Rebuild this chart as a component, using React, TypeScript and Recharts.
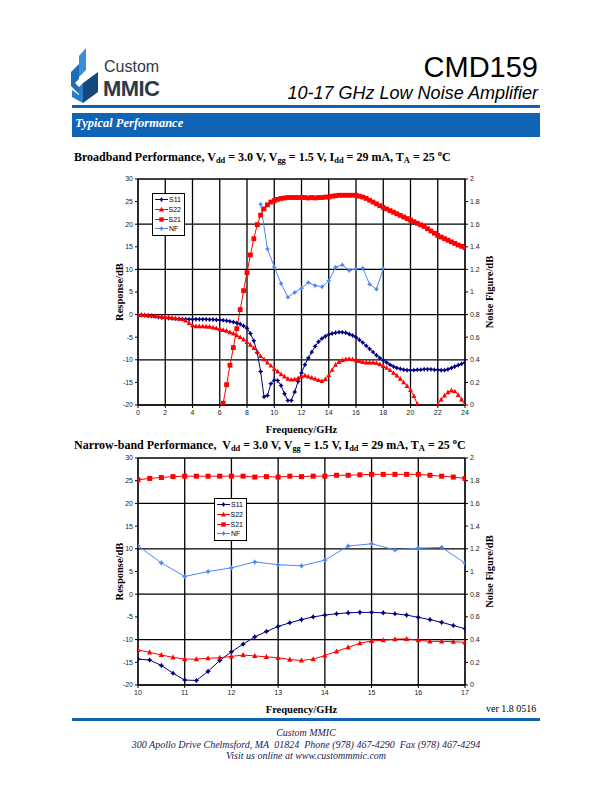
import { LineChart, Line, XAxis, YAxis, CartesianGrid, Legend } from 'recharts';

// ---- broadband sweep (0-24 GHz, 0.25 GHz steps) ----
const bbFreq = [
  0, 0.25, 0.5, 0.75, 1, 1.25, 1.5, 1.75, 2, 2.25, 2.5, 2.75, 3, 3.25, 3.5, 3.75,
  4, 4.25, 4.5, 4.75, 5, 5.25, 5.5, 5.75, 6, 6.25, 6.5, 6.75, 7, 7.25, 7.5, 7.75,
  8, 8.25, 8.5, 8.75, 9, 9.25, 9.5, 9.75, 10, 10.25, 10.5, 10.75, 11, 11.25, 11.5, 11.75,
  12, 12.25, 12.5, 12.75, 13, 13.25, 13.5, 13.75, 14, 14.25, 14.5, 14.75, 15, 15.25, 15.5, 15.75,
  16, 16.25, 16.5, 16.75, 17, 17.25, 17.5, 17.75, 18, 18.25, 18.5, 18.75, 19, 19.25, 19.5, 19.75,
  20, 20.25, 20.5, 20.75, 21, 21.25, 21.5, 21.75, 22, 22.25, 22.5, 22.75, 23, 23.25, 23.5, 23.75, 24,
];
const bbS11 = [
  0, -0.1, -0.2, -0.3, -0.35, -0.45, -0.55, -0.65, -0.75, -0.8, -0.85, -0.9, -0.95, -1.0, -1.0, -1.05,
  -1.05, -1.05, -1.05, -1.05, -1.05, -1.1, -1.1, -1.15, -1.2, -1.25, -1.35, -1.5, -1.65, -1.85, -2.1, -2.5,
  -3.0, -4.2, -5.8, -8.4, -12.6, -18.2, -17.9, -15.3, -14.5, -14.6, -15.7, -17.5, -19.0, -19.0, -17.1, -14.8,
  -12.9, -11.1, -9.6, -8.3, -7.0, -6.0, -5.3, -4.8, -4.4, -4.2, -4.0, -3.9, -3.9, -4.0, -4.3, -4.6,
  -5.0, -5.6, -6.2, -6.9, -7.6, -8.3, -9.0, -9.6, -10.1, -10.6, -11.1, -11.5, -11.8, -12.0, -12.2, -12.3,
  -12.3, -12.3, -12.2, -12.2, -12.1, -12.1, -12.1, -12.2, -12.2, -12.3, -12.3, -12.1, -11.8, -11.5, -11.2, -10.9, -10.6,
];
const bbS22 = [
  0, -0.05, -0.1, -0.15, -0.2, -0.3, -0.4, -0.5, -0.55, -0.6, -0.7, -0.8, -0.9, -1.0, -1.3, -1.9,
  -2.4, -2.6, -2.6, -2.6, -2.65, -2.7, -2.85, -3.0, -3.2, -3.4, -3.6, -3.9, -4.2, -4.6, -5.0, -5.5,
  -6.1, -6.7, -7.4, -8.2, -9.2, -9.9, -10.6, -11.3, -12.0, -12.6, -13.2, -13.7, -14.2, -14.4, -14.3, -14.1,
  -13.7, -13.5, -13.7, -14.0, -14.2, -14.5, -14.7, -14.3, -13.4, -12.2, -11.1, -10.5, -10.1, -9.9, -9.8, -9.9,
  -10.1, -10.3, -10.5, -10.6, -10.6, -10.6, -10.7, -11.0, -11.4, -11.8, -12.3, -12.9, -13.5, -14.2, -15.0, -15.8,
  -16.7, -18.0, -19.8, null, null, null, null, null, -19.9, -18.8, -17.9, -17.2, -16.8, -17.0, -17.8, -18.8, -20.0,
];
const bbS21Freq = [
  6.25, 6.5, 6.75, 7, 7.25, 7.5, 7.75, 8, 8.25, 8.5, 8.75, 9, 9.25, 9.5, 9.75,
  10, 10.25, 10.5, 10.75, 11, 11.25, 11.5, 11.75, 12, 12.25, 12.5, 12.75, 13, 13.25, 13.5, 13.75,
  14, 14.25, 14.5, 14.75, 15, 15.25, 15.5, 15.75, 16, 16.25, 16.5, 16.75, 17, 17.25, 17.5, 17.75,
  18, 18.25, 18.5, 18.75, 19, 19.25, 19.5, 19.75, 20, 20.25, 20.5, 20.75, 21, 21.25, 21.5, 21.75,
  22, 22.25, 22.5, 22.75, 23, 23.25, 23.5, 23.75, 24,
];
const bbS21 = [
  -19.6, -15.5, -11.2, -7.3, -3.1, 1.1, 5.3, 9.3, 13.2, 16.8, 19.9, 22.0, 23.4, 24.3, 24.9,
  25.2, 25.5, 25.7, 25.8, 25.9, 25.9, 25.9, 25.9, 25.9, 25.9, 25.8, 25.9, 25.8, 25.9, 25.9, 26.0,
  26.0, 26.2, 26.3, 26.4, 26.4, 26.4, 26.4, 26.4, 26.4, 26.2, 26.0, 25.7, 25.3, 24.9, 24.5, 24.1,
  23.7, 23.35, 23.0, 22.65, 22.3, 21.95, 21.6, 21.25, 20.9, 20.55, 20.2, 19.85, 19.5, 19.0, 18.5, 18.0,
  17.5, 17.15, 16.8, 16.45, 16.1, 15.75, 15.4, 15.1, 14.8,
];
const bbNfFreq = [9, 9.5, 10, 10.5, 11, 11.5, 12, 12.5, 13, 13.5, 14, 14.5, 15, 15.5, 16, 16.5, 17, 17.5, 18];
const bbNf = [1.776, 1.381, 1.222, 1.075, 0.954, 0.996, 1.034, 1.084, 1.057, 1.046, 1.099, 1.219, 1.24, 1.19, 1.205, 1.211, 1.069, 1.025, 1.208];

// ---- narrow-band sweep (10-17 GHz) ----
const nbFreq = [
  10, 10.25, 10.5, 10.75, 11, 11.25, 11.5, 11.75, 12, 12.25, 12.5, 12.75, 13, 13.25, 13.5, 13.75,
  14, 14.25, 14.5, 14.75, 15, 15.25, 15.5, 15.75, 16, 16.25, 16.5, 16.75, 17,
];
const nbS11 = [
  -14.3, -14.5, -15.7, -17.4, -18.9, -19.0, -17.0, -14.6, -12.7, -11.0, -9.4, -8.2, -7.1, -6.3, -5.6, -5.0,
  -4.6, -4.3, -4.1, -4.0, -4.0, -4.1, -4.3, -4.6, -5.1, -5.6, -6.2, -6.9, -7.6,
];
const nbS22 = [
  -12.3, -12.8, -13.4, -13.9, -14.3, -14.3, -14.1, -14.0, -13.7, -13.4, -13.6, -13.8, -14.0, -14.4, -14.6, -14.3,
  -13.5, -12.6, -11.7, -10.8, -10.3, -10.15, -9.9, -9.85, -10.15, -10.4, -10.4, -10.45, -10.6,
];
const nbS21 = [
  25.2, 25.5, 25.7, 25.9, 26.0, 26.0, 26.0, 26.0, 26.0, 26.0, 25.8, 25.9, 25.8, 26.0, 25.9, 26.0,
  26.0, 26.2, 26.2, 26.3, 26.4, 26.4, 26.4, 26.4, 26.4, 26.2, 26.0, 25.8, 25.5,
];
const nbNfFreq = [10, 10.5, 11, 11.5, 12, 12.5, 13, 13.5, 14, 14.5, 15, 15.5, 16, 16.5, 17];
const nbNf = [1.226, 1.076, 0.956, 1.0, 1.032, 1.084, 1.06, 1.05, 1.1, 1.224, 1.244, 1.19, 1.206, 1.212, 1.074];

// ---- axes ----
const dbTicks = [-20, -15, -10, -5, 0, 5, 10, 15, 20, 25, 30];
const nfTicks = [0, 0.2, 0.4, 0.6, 0.8, 1, 1.2, 1.4, 1.6, 1.8, 2];
const bbTicks = [0, 2, 4, 6, 8, 10, 12, 14, 16, 18, 20, 22, 24];
const nbTicks = [10, 11, 12, 13, 14, 15, 16, 17];

const SERIF = '"Liberation Serif", "Times New Roman", serif';
const SANS = '"Liberation Sans", Arial, sans-serif';
const BLUE = '#0f64b6';

const NAVY = '#000080';
const RED = '#ff0000';
const LIGHT = '#4f86f7';

type Shape = 'star' | 'triangle' | 'square';
type Series = {
  name: string;
  freq: number[];
  values: (number | null)[];
  color: string;
  shape: Shape;
  size: number;
  right?: boolean;
};

const toPoints = (freq: number[], values: (number | null)[]) =>
  freq.map((f, i) => ({ f, v: values[i] }));

function Marker({ cx, cy, shape, color, size }: { cx: number; cy: number; shape: Shape; color: string; size: number }) {
  if (cx == null || cy == null || Number.isNaN(cy)) return null;
  const s = size;
  if (shape === 'square') {
    return <rect x={cx - s} y={cy - s} width={2 * s} height={2 * s} fill={color} />;
  }
  if (shape === 'triangle') {
    return <polygon points={`${cx},${cy - s * 1.15} ${cx + s},${cy + s * 0.8} ${cx - s},${cy + s * 0.8}`} fill={color} />;
  }
  const k = s * 0.38;
  return (
    <polygon
      points={`${cx},${cy - s} ${cx + k},${cy - k} ${cx + s},${cy} ${cx + k},${cy + k} ${cx},${cy + s} ${cx - k},${cy + k} ${cx - s},${cy} ${cx - k},${cy - k}`}
      fill={color}
    />
  );
}

function LegendBox({ items }: { items: Series[] }) {
  return (
    <div style={{ border: '1px solid #000', background: '#fff', padding: '1px 3px 1px 2px', width: 26 }}>
      {items.map((s) => (
        <div key={s.name} style={{ display: 'flex', alignItems: 'center', height: 9.7 }}>
          <svg width={13} height={9} style={{ display: 'block' }}>
            <line x1={0} y1={4.5} x2={13} y2={4.5} stroke={s.color} strokeWidth={1} />
            <Marker cx={6.5} cy={4.5} shape={s.shape} color={s.color} size={s.shape === 'square' ? 2.2 : 2.5} />
          </svg>
          <span style={{ fontFamily: SANS, fontSize: 7, marginLeft: 1, lineHeight: '9px' }}>{s.name}</span>
        </div>
      ))}
    </div>
  );
}

const fmt = (v: number) => String(Math.round(v * 10) / 10);
const tickStyle = { fontFamily: SANS, fontSize: 7, fill: '#222' };
const titleStyle = { fontFamily: SERIF, fontSize: 10.5, fontWeight: 700, fill: '#000' };

function PerfChart({
  top, series, domain, ticks, plotHeight, legendLeft, legendTop,
}: {
  top: number; series: Series[]; domain: [number, number]; ticks: number[];
  plotHeight: number; legendLeft: number; legendTop: number;
}) {
  const height = 272;
  const xAxisH = 28;
  const mTop = 9;
  return (
    <div style={{ position: 'absolute', left: 0, top, width: 612, height }}>
      <LineChart
        width={612}
        height={height}
        margin={{ top: mTop, left: 98, right: 107, bottom: height - mTop - plotHeight - xAxisH }}
      >
        <CartesianGrid stroke="#000" strokeWidth={1.3} />
        <XAxis
          dataKey="f"
          type="number"
          domain={domain}
          ticks={ticks}
          allowDataOverflow
          height={xAxisH}
          tick={tickStyle}
          tickSize={3}
          tickMargin={2}
          stroke="#000"
          label={{ value: 'Frequency/GHz', position: 'insideBottom', offset: 0, style: titleStyle }}
        />
        <YAxis
          type="number"
          domain={[-20, 30]}
          ticks={dbTicks}
          allowDataOverflow
          width={40}
          tick={tickStyle}
          tickFormatter={fmt}
          tickSize={3}
          tickMargin={2}
          stroke="#000"
          label={{ value: 'Response/dB', angle: -90, position: 'insideLeft', offset: 21, style: { ...titleStyle, textAnchor: 'middle' } }}
        />
        <YAxis
          yAxisId="r"
          orientation="right"
          type="number"
          domain={[0, 2]}
          ticks={nfTicks}
          allowDataOverflow
          width={40}
          tick={tickStyle}
          tickFormatter={fmt}
          tickSize={3}
          tickMargin={2}
          stroke="#000"
          label={{ value: 'Noise Figure/dB', angle: -90, position: 'insideRight', offset: 16, style: { ...titleStyle, textAnchor: 'middle' } }}
        />
        <Legend
          layout="vertical"
          align="center"
          verticalAlign="middle"
          content={() => <LegendBox items={series} />}
          wrapperStyle={{ left: legendLeft, top: legendTop, width: 'auto', height: 'auto' }}
        />
        {series.map((s) => (
          <Line
            key={s.name}
            name={s.name}
            data={toPoints(s.freq, s.values)}
            dataKey="v"
            yAxisId={s.right ? 'r' : 0}
            stroke={s.color}
            strokeWidth={1}
            connectNulls={false}
            activeDot={false}
            isAnimationActive={false}
            dot={(p: any) => (
              <g key={`${s.name}-${p.index}`}>
                <Marker cx={p.cx} cy={p.cy} shape={s.shape} color={s.color} size={s.size} />
              </g>
            )}
          />
        ))}
      </LineChart>
    </div>
  );
}

const bbSeries: Series[] = [
  { name: 'S11', freq: bbFreq, values: bbS11, color: NAVY, shape: 'star', size: 2.6 },
  { name: 'S22', freq: bbFreq, values: bbS22, color: RED, shape: 'triangle', size: 2.4 },
  { name: 'S21', freq: bbS21Freq, values: bbS21, color: RED, shape: 'square', size: 2.4 },
  { name: 'NF', freq: bbNfFreq, values: bbNf, color: LIGHT, shape: 'star', size: 2.6, right: true },
];

const nbSeries: Series[] = [
  { name: 'S11', freq: nbFreq, values: nbS11, color: NAVY, shape: 'star', size: 2.8 },
  { name: 'S22', freq: nbFreq, values: nbS22, color: RED, shape: 'triangle', size: 2.6 },
  { name: 'S21', freq: nbFreq, values: nbS21, color: RED, shape: 'square', size: 2.5 },
  { name: 'NF', freq: nbNfFreq, values: nbNf, color: LIGHT, shape: 'star', size: 2.8, right: true },
];

function Sub({ children }: { children: string }) {
  return <sub style={{ fontSize: '0.7em', verticalAlign: '-0.25em', lineHeight: 0 }}>{children}</sub>;
}

function Conditions() {
  return (
    <>
      V<Sub>dd</Sub> = 3.0 V, V<Sub>gg</Sub> = 1.5 V, I<Sub>dd</Sub> = 29 mA, T<Sub>A</Sub> = 25 <sup style={{ fontSize: '0.7em', lineHeight: 0 }}>o</sup>C
    </>
  );
}

function Logo() {
  return (
    <svg width={30} height={58} viewBox="0 0 30 58" style={{ position: 'absolute', left: 70, top: 46 }}>
      <polygon points="9,10 16,2 16,24 9,31" fill="#3a8fd4" />
      <polygon points="1,26 9,18 9,33 5,37 9,41 9,48 1,40" fill="#1f6db3" />
      <polygon points="2,44 13,52 13,57 2,51" fill="#2a7cc4" />
      <polygon points="13,37 28,26 28,46 13,57" fill="#15497e" />
      <polygon points="9,41 13,37 13,57 9,54" fill="#2a7cc4" />
    </svg>
  );
}

export default function App() {
  return (
    <div style={{ position: 'absolute', left: 0, top: 0, width: 612, height: 792, background: '#fff', overflow: 'hidden' }}>
      <Logo />
      <div style={{ position: 'absolute', left: 104, top: 58.5, fontFamily: SANS, fontSize: 16, color: '#2e3a48', lineHeight: '16px' }}>
        Custom
      </div>
      <div style={{ position: 'absolute', left: 103, top: 78.5, fontFamily: SANS, fontSize: 22, fontWeight: 700, color: '#2e3a48', lineHeight: '20px', letterSpacing: -0.6 }}>
        MMIC
      </div>
      <div style={{ position: 'absolute', right: 74, top: 50, fontFamily: SANS, fontSize: 29, color: '#000', lineHeight: '34px' }}>
        CMD159
      </div>
      <div style={{ position: 'absolute', right: 74, top: 83, fontFamily: SANS, fontSize: 18, fontStyle: 'italic', color: '#000', lineHeight: '21px' }}>
        10-17 GHz Low Noise Amplifier
      </div>
      <div style={{ position: 'absolute', left: 72, top: 105, width: 468, height: 2.5, background: BLUE }} />
      <div style={{ position: 'absolute', left: 72, top: 113, width: 468, height: 24, background: BLUE }}>
        <span style={{ position: 'absolute', left: 3, top: 3, fontFamily: SERIF, fontSize: 12.5, fontStyle: 'italic', fontWeight: 700, color: '#fff' }}>
          Typical Performance
        </span>
      </div>
      <div style={{ position: 'absolute', left: 74, top: 150, fontFamily: SERIF, fontSize: 12, fontWeight: 700, color: '#000', whiteSpace: 'nowrap' }}>
        Broadband Performance, <Conditions />
      </div>

      <PerfChart top={170} series={bbSeries} domain={[0, 24]} ticks={bbTicks} plotHeight={226} legendLeft={152} legendTop={23} />

      <div style={{ position: 'absolute', left: 74, top: 438, fontFamily: SERIF, fontSize: 12, fontWeight: 700, color: '#000', whiteSpace: 'pre' }}>
        Narrow-band Performance,  <Conditions />
      </div>

      <PerfChart top={449} series={nbSeries} domain={[10, 17]} ticks={nbTicks} plotHeight={227} legendLeft={214} legendTop={49} />

      <div style={{ position: 'absolute', left: 486, top: 703, fontFamily: SERIF, fontSize: 10, color: '#000' }}>ver 1.8 0516</div>
      <div style={{ position: 'absolute', left: 72, top: 718, width: 468, height: 2.5, background: BLUE }} />
      <div style={{ position: 'absolute', left: 0, top: 727, width: 612, textAlign: 'center', fontFamily: SERIF, fontSize: 10, fontStyle: 'italic', color: '#1c1c50', lineHeight: '11.5px' }}>
        <div>Custom MMIC</div>
        <div>300 Apollo Drive Chelmsford, MA&nbsp; 01824&nbsp; Phone (978) 467-4290&nbsp; Fax (978) 467-4294</div>
        <div>Visit us online at www.custommmic.com</div>
      </div>
    </div>
  );
}
